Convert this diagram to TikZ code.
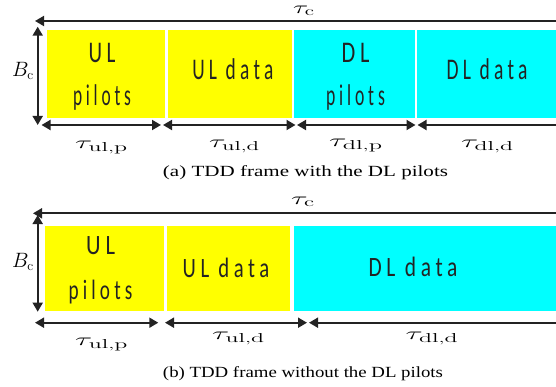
\documentclass[tikz,border=0pt]{standalone}
\usepackage{fontspec}
\usepackage{graphicx}
\newfontfamily\capfont{Liberation Serif}
\newfontfamily\boxfont{Carlito}[LetterSpace=22]
\usetikzlibrary{arrows.meta}
\newcommand{\hfit}[2]{\resizebox{#1pt}{\height}{#2}}
\definecolor{ylw}{RGB}{255,255,0}
\definecolor{cyn}{RGB}{0,255,255}
\definecolor{ink}{RGB}{35,35,35}
\tikzset{
  dim/.style={draw=ink, line width=1.8pt, {Triangle[length=9pt,width=10pt]}-{Triangle[length=9pt,width=10pt]}},
  ulbox/.style={fill=ylw, draw=none, inner sep=0pt, anchor=north west},
  dlbox/.style={fill=cyn, draw=none, inner sep=0pt, anchor=north west},
  lblA/.style={inner sep=0pt, text=ink, align=center, font=\boxfont\fontsize{30}{43}\selectfont},
  lblB/.style={inner sep=0pt, text=ink, align=center, font=\boxfont\fontsize{28}{45}\selectfont},
  taulbl/.style={inner sep=0pt, font=\fontsize{18.5}{22}\selectfont},
  blbl/.style={inner sep=0pt, font=\fontsize{19.5}{22}\selectfont},
  caplbl/.style={inner sep=0pt, anchor=base, font=\capfont\fontsize{15.5}{18}\selectfont},
}
\begin{document}
\begin{tikzpicture}[x=1pt,y=-1pt]
\useasboundingbox (0,0) rectangle (556,387);
\clip (0,0) rectangle (556,387);

% ---------------- (a) ----------------
\node[ulbox, minimum width=118pt, minimum height=88pt] (a1) at (47,30) {};
\node[ulbox, minimum width=124pt, minimum height=88pt] (a2) at (167.3,30) {};
\node[dlbox, minimum width=120.5pt, minimum height=88pt] (a3) at (293.8,30) {};
\node[dlbox, minimum width=145pt, minimum height=88pt] (a4) at (417,30) {};

\node[lblA] (ta1) at (102,76.5) {\hfit{27}{UL}\\\hfit{58}{pilots}};
\node[lblA, anchor=base] (ta2) at (232.8,80) {\hfit{81}{UL data}};
\node[lblA] (ta3) at (355.5,76.5) {\hfit{28}{DL}\\\hfit{59}{pilots}};
\node[lblA, anchor=base] (ta4) at (487,80) {\hfit{81}{DL data}};

\coordinate (aTL) at (35,21);
\coordinate (aTR) at (565,21);
\draw[dim] (aTL) -- (aTR);
\node[taulbl] (atc) at (304,11) {\hfit{22}{$\tau_{\mathrm{c}}$}};

\coordinate (aVT) at (37.7,26.7);
\coordinate (aVB) at (37.7,125);
\draw[dim] (aVT) -- (aVB);
\node[blbl] (abc) at (23,71) {$B_{\mathrm{c}}$};

\coordinate (aB0) at (41.5,125);
\coordinate (aB1) at (161,125);
\coordinate (aB2) at (163,125);
\coordinate (aB3) at (295.5,125);
\coordinate (aB4) at (297,125);
\coordinate (aB5) at (415.5,125);
\coordinate (aB6) at (417.5,125);
\coordinate (aB7) at (566,125);
\draw[dim] (aB0) -- (aB1);
\draw[dim] (aB2) -- (aB3);
\draw[dim] (aB4) -- (aB5);
\draw[dim] (aB6) -- (aB7);

\node[taulbl] (aul1) at (101.5,148) {\hfit{53}{$\tau_{\mathrm{ul,p}}$}};
\node[taulbl] (aul2) at (234.5,146) {\hfit{51}{$\tau_{\mathrm{ul,d}}$}};
\node[taulbl] (adl1) at (356,146) {\hfit{54}{$\tau_{\mathrm{dl,p}}$}};
\node[taulbl] (adl2) at (487.5,146) {\hfit{53}{$\tau_{\mathrm{dl,d}}$}};

\node[caplbl] (capa) at (305.5,177) {\hfit{285}{(a) TDD frame with the DL pilots}};

% ---------------- (b) ----------------
\node[ulbox, minimum width=119pt, minimum height=85pt] (b1) at (45,225.7) {};
\node[ulbox, minimum width=122.6pt, minimum height=85pt] (b2) at (166.7,225.7) {};
\node[dlbox, minimum width=270pt, minimum height=85pt] (b3) at (293.7,225.7) {};

\node[lblB] (tb1) at (100.5,270.5) {\hfit{29}{UL}\\\hfit{64}{pilots}};
\node[lblB, anchor=base] (tb2) at (226,277.3) {\hfit{86.6}{UL data}};
\node[lblB, anchor=base] (tb3) at (413,276) {\hfit{89}{DL data}};

\coordinate (bTL) at (33,213.3);
\coordinate (bTR) at (565,213.3);
\draw[dim] (bTL) -- (bTR);
\node[taulbl] (btc) at (303,202) {\hfit{24}{$\tau_{\mathrm{c}}$}};

\coordinate (bVT) at (37.7,215);
\coordinate (bVB) at (37.7,311.7);
\draw[dim] (bVT) -- (bVB);
\node[blbl] (bbc) at (23,262) {$B_{\mathrm{c}}$};

\coordinate (bB0) at (35,322.7);
\coordinate (bB1) at (158.3,322.7);
\coordinate (bB2) at (165,322.7);
\coordinate (bB3) at (307,322.7);
\coordinate (bB4) at (309,322.7);
\coordinate (bB5) at (566,322.7);
\draw[dim] (bB0) -- (bB1);
\draw[dim] (bB2) -- (bB3);
\draw[dim] (bB4) -- (bB5);

\node[taulbl] (bul1) at (101.7,345) {\hfit{53}{$\tau_{\mathrm{ul,p}}$}};
\node[taulbl] (bul2) at (238.5,338) {\hfit{53}{$\tau_{\mathrm{ul,d}}$}};
\node[taulbl] (bdl2) at (432,338) {\hfit{53}{$\tau_{\mathrm{dl,d}}$}};

\node[caplbl] (capb) at (303,377) {\hfit{280}{(b) TDD frame without the DL pilots}};
\end{tikzpicture}
\end{document}
